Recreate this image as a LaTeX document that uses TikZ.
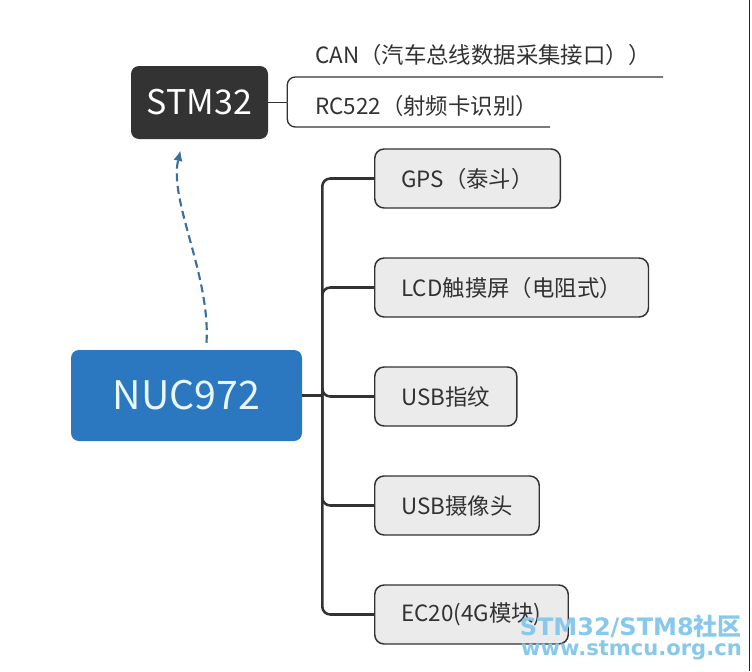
\documentclass[tikz,border=0pt]{standalone}
\usepackage{fontspec}
\setmainfont{Noto Sans CJK SC}
\newfontfamily\markfont{DejaVu Sans}
\newfontfamily\markcjk{Noto Sans CJK SC}
\usepackage{tikz}
\usetikzlibrary{arrows.meta,positioning}

\definecolor{stmgray}{RGB}{51,51,51}
\definecolor{nucblue}{RGB}{43,120,192}
\definecolor{nuctext}{RGB}{232,245,250}
\definecolor{leafgray}{RGB}{235,235,235}
\definecolor{linegray}{RGB}{50,50,50}
\definecolor{linkblue}{RGB}{59,111,156}
\definecolor{markblue}{RGB}{135,200,235}

\tikzset{
  head/.style={rounded corners=6pt, text=white, font=\fontsize{25.5}{28}\selectfont},
  leaf/.style={draw=linegray, line width=1.1pt, fill=leafgray, rounded corners=7pt, minimum height=44.25pt, inner xsep=20pt, text=linegray, font=\fontsize{16.8}{19}\selectfont},
  tag/.style={anchor=west, inner sep=0pt, text=linegray, font=\fontsize{16.8}{19}\selectfont},
  branch/.style={draw=linegray, line width=1.9pt, rounded corners=6pt},
  twig/.style={draw=linegray, line width=1pt, rounded corners=6pt},
  link/.style={draw=linkblue, line width=1.6pt, dash pattern=on 6pt off 3.5pt, -{Latex[length=8pt,width=7pt]}},
  stamp/.style={anchor=base east, inner sep=0pt, text=markblue}
}

\begin{document}
\begin{tikzpicture}[x=0.75pt,y=-0.75pt]
\useasboundingbox (0,0) rectangle (752,671);
\node[head,fill=stmgray,minimum width=102.75pt,minimum height=54.75pt] (stm) at (199.5,102.5) {STM32};
\node[head,fill=nucblue,text=nuctext,minimum width=173.25pt,minimum height=68.25pt,font=\fontsize{29.5}{32}\selectfont] (nuc) at (186.5,395.5) {NUC972};

\node[tag] (can) at (315,55) {CAN（汽车总线数据采集接口））};
\node[tag] (rc) at (315,106) {RC522（射频卡识别）};
\coordinate[right=14.25pt of stm.east] (stmfork);
\coordinate (canend) at (663,77);
\coordinate (rcend) at (550,127);
\draw[twig,line width=1.4pt] (stm.east) -- (stmfork);
\draw[twig] (stmfork) |- (canend);
\draw[twig] (stmfork) |- (rcend);

\node[leaf,anchor=west] (gps) at (374,178.5) {GPS（泰斗）};
\node[leaf,below=81.75pt of gps.west,anchor=west] (lcd) {LCD触摸屏（电阻式）};
\node[leaf,below=81.75pt of lcd.west,anchor=west] (finger) {USB指纹};
\node[leaf,below=81.75pt of finger.west,anchor=west] (cam) {USB摄像头};
\node[leaf,below=81.75pt of cam.west,anchor=west] (ec) {EC20(4G模块)};

\coordinate[right=15pt of nuc.east] (nucfork);
\draw[branch] (nuc.east) -- (nucfork);
\foreach \leaf in {gps,lcd,finger,cam,ec}
  \draw[branch] (nucfork) |- (\leaf.west);

\draw[link] ([shift={(20,-7)}]nuc.north) .. controls ([shift={(24,-75)}]nuc.north) and ([shift={(-31,61)}]stm.south) .. ([shift={(-19,11)}]stm.south);

% watermark and right edge
\node[stamp,font=\markfont\bfseries\fontsize{18}{20}\selectfont] (stamp1) at (742,635) {STM32/STM8{\markcjk\bfseries 社区}};
\node[stamp,font=\markfont\bfseries\fontsize{15.8}{18}\selectfont] (stamp2) at (742,655) {www.stmcu.org.cn};
\draw[draw=black!85,line width=1.3pt] (749.5,0) -- (749.5,671);
\end{tikzpicture}
\end{document}
